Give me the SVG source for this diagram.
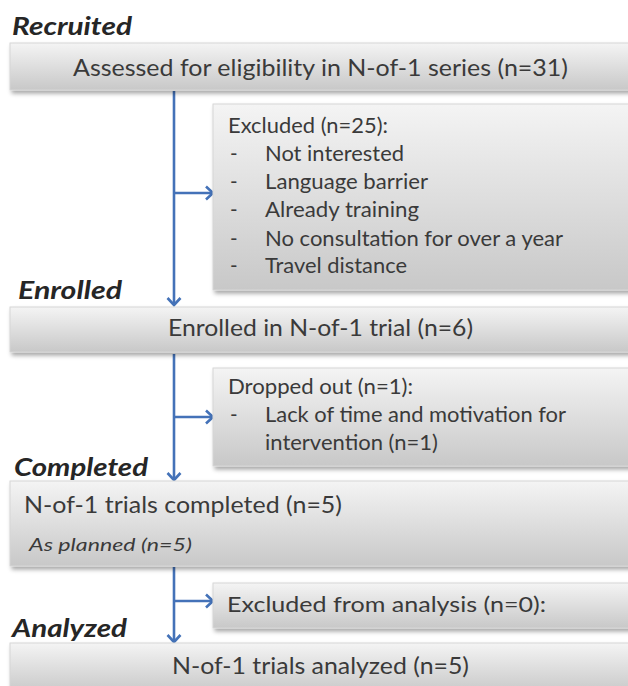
<svg xmlns="http://www.w3.org/2000/svg" width="628" height="686" viewBox="0 0 628 686">
<defs>
<linearGradient id="g" x1="0" y1="0" x2="0" y2="1">
<stop offset="0" stop-color="#f4f4f4"/>
<stop offset="1" stop-color="#c8c8c8"/>
</linearGradient>
<filter id="sh" x="-5%" y="-10%" width="115%" height="130%">
<feDropShadow dx="2" dy="3" stdDeviation="2" flood-color="#000" flood-opacity="0.35"/>
</filter>
<marker id="ah" markerUnits="userSpaceOnUse" markerWidth="16" markerHeight="16" viewBox="0 0 16 16" refX="13" refY="8" orient="auto">
<path d="M6,1.5 L13,8 L6,14.5" fill="none" stroke="#4472b8" stroke-width="2.6" stroke-linejoin="miter"/>
</marker>
</defs>
<style>
.box{fill:url(#g);stroke:#d6d6d6;stroke-width:1;filter:url(#sh)}
.t{font-family:Lato,"Liberation Sans",sans-serif;fill:#3a3a3a}
.big{font-size:23.5px}
.sm{font-size:20.5px}
.lab{font-family:Lato,"Liberation Sans",sans-serif;font-weight:bold;font-style:italic;font-size:25px;fill:#262626}
.c{fill:none;stroke:#4472b8;stroke-width:2.6}
</style>

<g id="labels">
<text class="lab" x="12" y="35" textLength="120" lengthAdjust="spacingAndGlyphs">Recruited</text>
<text class="lab" x="18" y="299" textLength="104" lengthAdjust="spacingAndGlyphs">Enrolled</text>
<text class="lab" x="14" y="476" textLength="134" lengthAdjust="spacingAndGlyphs">Completed</text>
<text class="lab" x="12" y="637" textLength="115" lengthAdjust="spacingAndGlyphs">Analyzed</text>
</g>

<g id="connectors">
<line class="c" x1="174" y1="91" x2="174" y2="305" marker-end="url(#ah)"/>
<line class="c" x1="174" y1="193" x2="213" y2="193" marker-end="url(#ah)"/>
<line class="c" x1="174" y1="354" x2="174" y2="480" marker-end="url(#ah)"/>
<line class="c" x1="174" y1="417" x2="213" y2="417" marker-end="url(#ah)"/>
<line class="c" x1="174" y1="567" x2="174" y2="642" marker-end="url(#ah)"/>
<line class="c" x1="174" y1="601" x2="213" y2="601" marker-end="url(#ah)"/>
</g>

<g id="assessed">
<rect class="box" x="10" y="43" width="625" height="47"/>
<text class="t big" x="73" y="76" textLength="495" lengthAdjust="spacingAndGlyphs">Assessed for eligibility in N-of-1 series (n=31)</text>
</g>

<g id="excluded">
<rect class="box" x="213" y="104" width="422" height="186"/>
<text class="t sm" x="228" y="133" textLength="160" lengthAdjust="spacingAndGlyphs">Excluded (n=25):</text>
<text class="t sm" x="230" y="161">-</text>
<text class="t sm" x="265" y="161" textLength="139" lengthAdjust="spacingAndGlyphs">Not interested</text>
<text class="t sm" x="230" y="189">-</text>
<text class="t sm" x="265" y="189" textLength="163" lengthAdjust="spacingAndGlyphs">Language barrier</text>
<text class="t sm" x="230" y="217">-</text>
<text class="t sm" x="265" y="217" textLength="154" lengthAdjust="spacingAndGlyphs">Already training</text>
<text class="t sm" x="230" y="246">-</text>
<text class="t sm" x="265" y="246" textLength="298" lengthAdjust="spacingAndGlyphs">No consultation for over a year</text>
<text class="t sm" x="230" y="273">-</text>
<text class="t sm" x="265" y="273" textLength="142" lengthAdjust="spacingAndGlyphs">Travel distance</text>
</g>

<g id="enrolled">
<rect class="box" x="10" y="307" width="625" height="45"/>
<text class="t big" x="168" y="336" textLength="305" lengthAdjust="spacingAndGlyphs">Enrolled in N-of-1 trial (n=6)</text>
</g>

<g id="dropped">
<rect class="box" x="213" y="368" width="422" height="98"/>
<text class="t sm" x="228" y="394" textLength="185" lengthAdjust="spacingAndGlyphs">Dropped out (n=1):</text>
<text class="t sm" x="230" y="422">-</text>
<text class="t sm" x="265" y="422" textLength="301" lengthAdjust="spacingAndGlyphs">Lack of time and motivation for</text>
<text class="t sm" x="265" y="450" textLength="173" lengthAdjust="spacingAndGlyphs">intervention (n=1)</text>
</g>

<g id="completed">
<rect class="box" x="10" y="481" width="625" height="85"/>
<text class="t big" x="24" y="513" textLength="318" lengthAdjust="spacingAndGlyphs">N-of-1 trials completed (n=5)</text>
<text class="t" x="29" y="551" font-size="18" font-style="italic" textLength="163" lengthAdjust="spacingAndGlyphs">As planned (n=5)</text>
</g>

<g id="excluded-analysis">
<rect class="box" x="213" y="583" width="422" height="45"/>
<text class="t" x="227" y="612" font-size="22" textLength="319" lengthAdjust="spacingAndGlyphs">Excluded from analysis (n=0):</text>
</g>

<g id="analyzed">
<rect class="box" x="10" y="643" width="625" height="50"/>
<text class="t big" x="172" y="674" textLength="297" lengthAdjust="spacingAndGlyphs">N-of-1 trials analyzed (n=5)</text>
</g>
</svg>
